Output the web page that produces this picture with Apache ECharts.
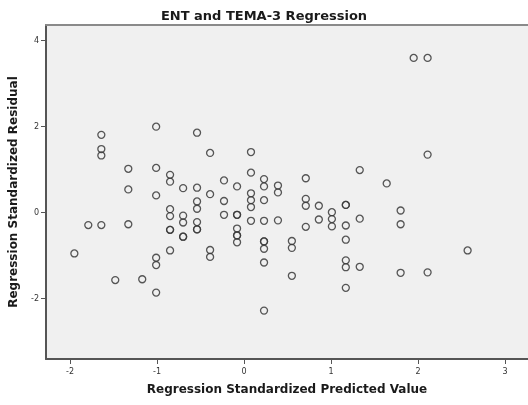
<!DOCTYPE html>
<html>
<head>
<meta charset="utf-8">
<script src="https://cdn.jsdelivr.net/npm/echarts@6/dist/echarts.min.js"></script>
<style>
  html, body { margin: 0; padding: 0; background: #ffffff; }
  #chart { width: 528px; height: 405px; }
</style>
</head>
<body>
<div id="chart"></div>
<script>
// Regression standardized predicted value (x) for each case
var predicted = [
  -1.64, -1.64, -1.64, -1.01, -0.54, -0.39, 0.08, -1.33, -1.01, -0.85,
  -0.85, 0.08, -1.33, -1.01, -0.70, -0.54, -0.39, -0.23, -0.08, 0.23,
  0.23, 0.39, 0.39, 0.08, 0.08, 0.08, 0.23, -0.54, -0.54, -0.23,
  -0.85, -0.85, -0.70, -0.70, -0.23, -0.08, -0.08, -1.79, -1.64, -1.33,
  -0.85, -0.85, -0.70, -0.70, -0.54, -0.54, -0.54, -0.08, -0.08, -0.08,
  -0.08, 0.08, 0.23, 0.39, 0.23, 0.23, 0.23, 0.23, 0.23, -1.95,
  -1.48, -1.17, -1.01, -1.01, -1.01, -0.85, -0.39, -0.39, 0.55, 0.55,
  0.55, 0.71, 0.71, 0.71, 0.71, 0.86, 0.86, 1.01, 1.01, 1.01,
  1.17, 1.17, 1.17, 1.17, 1.17, 1.17, 1.17, 1.33, 1.33, 1.64,
  1.80, 1.80, 1.80, 2.11, 2.57, 1.95, 2.11, 2.11, 1.33
];

// Regression standardized residual (y) for each case
var residual = [
  1.81, 1.48, 1.33, 2.00, 1.86, 1.39, 1.41, 1.02, 1.04, 0.88,
  0.72, 0.93, 0.54, 0.40, 0.57, 0.58, 0.43, 0.75, 0.61, 0.78,
  0.61, 0.63, 0.47, 0.45, 0.29, 0.13, 0.29, 0.26, 0.09, 0.27,
  0.08, -0.08, -0.07, -0.23, -0.05, -0.05, -0.05, -0.29, -0.29, -0.27,
  -0.40, -0.40, -0.56, -0.56, -0.22, -0.39, -0.39, -0.37, -0.53, -0.53,
  -0.69, -0.19, -0.19, -0.18, -0.67, -0.67, -0.84, -1.16, -2.28, -0.95,
  -1.57, -1.55, -1.05, -1.22, -1.86, -0.88, -0.87, -1.03, -0.66, -0.82,
  -1.47, 0.80, 0.32, 0.16, -0.33, 0.16, -0.16, 0.01, -0.15, -0.32,
  0.18, 0.18, -0.30, -0.63, -1.11, -1.27, -1.75, -0.14, -1.26, 0.68,
  0.05, -0.27, -1.40, -1.39, -0.88, 3.60, 3.60, 1.35, 0.99
];

// Tick positions shown on each axis
var xTicks = [-2, -1, 0, 1, 2, 3];
var yTicks = [-2, 0, 2, 4];

var X_MIN = -2.276, X_MAX = 3.264;

var points = predicted.map(function (x, i) { return [x, residual[i]]; });

var chart = echarts.init(document.getElementById('chart'), null, { renderer: 'canvas' });

var labelFont = {
  fontFamily: 'DejaVu Sans',
  fontSize: 12,
  fontWeight: 'bold',
  color: '#1a1a1a'
};

chart.setOption({
  animation: false,
  backgroundColor: '#ffffff',
  title: {
    text: 'ENT and TEMA-3 Regression',
    left: 'center',
    top: 5,
    textStyle: {
      fontFamily: 'DejaVu Sans',
      fontSize: 13,
      fontWeight: 'bold',
      color: '#1a1a1a'
    }
  },
  // shaded plot area; frame is drawn by the axis lines (open on the right)
  grid: {
    left: 46,
    right: 0,
    top: 25,
    bottom: 46,
    show: true,
    backgroundColor: '#f0f0f0',
    borderWidth: 0
  },
  xAxis: [{
    type: 'value',
    min: X_MIN,
    max: X_MAX,
    position: 'bottom',
    name: 'Regression Standardized Predicted Value',
    nameLocation: 'middle',
    nameGap: 25,
    nameTextStyle: labelFont,
    splitLine: { show: false },
    axisLine: { show: true, onZero: false, lineStyle: { color: '#555555', width: 2 } },
    axisTick: {
      show: true,
      length: 5,
      customValues: xTicks,
      lineStyle: { color: '#555555', width: 1 }
    },
    axisLabel: {
      customValues: xTicks,
      margin: 9,
      fontFamily: 'DejaVu Sans',
      fontSize: 8,
      color: '#333333',
      formatter: function (v) { return String(Math.round(v)); }
    }
  }, {
    // top edge of the frame
    type: 'value',
    min: X_MIN,
    max: X_MAX,
    position: 'top',
    splitLine: { show: false },
    axisLine: { show: true, onZero: false, lineStyle: { color: '#8a8a8a', width: 2 } },
    axisTick: { show: false },
    axisLabel: { show: false }
  }],
  yAxis: {
    type: 'value',
    min: -3.406,
    max: 4.366,
    name: 'Regression Standardized Residual',
    nameLocation: 'middle',
    nameGap: 26,
    nameTextStyle: labelFont,
    splitLine: { show: false },
    axisLine: { show: true, onZero: false, lineStyle: { color: '#555555', width: 2 } },
    axisTick: {
      show: true,
      length: 5,
      customValues: yTicks,
      lineStyle: { color: '#555555', width: 1 }
    },
    axisLabel: {
      customValues: yTicks,
      margin: 7,
      fontFamily: 'DejaVu Sans',
      fontSize: 8,
      color: '#333333',
      formatter: function (v) { return String(Math.round(v)); }
    }
  },
  series: [{
    type: 'scatter',
    xAxisIndex: 0,
    data: points,
    symbol: 'circle',
    symbolSize: 7,
    itemStyle: {
      color: 'rgba(0,0,0,0)',
      borderColor: '#3a3a3a',
      borderWidth: 1.3,
      opacity: 0.85
    }
  }]
});
</script>
</body>
</html>
